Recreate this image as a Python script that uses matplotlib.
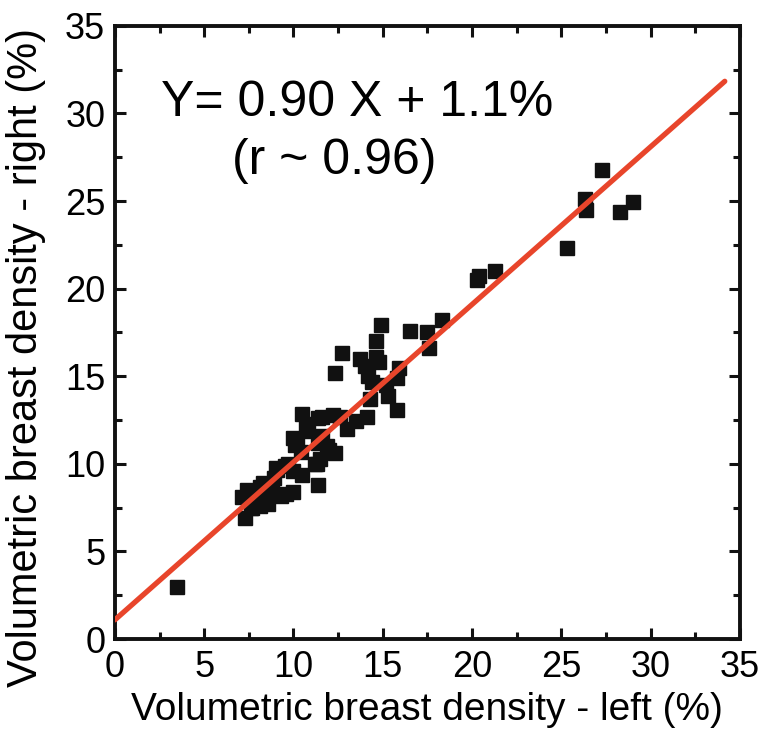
import matplotlib
matplotlib.use("Agg")
import matplotlib.pyplot as plt
import numpy as np

plt.rcParams['font.family'] = ['Liberation Sans', 'DejaVu Sans']

left_density = [3.5, 25.3, 27.3, 26.3, 26.4, 28.3, 29.0, 20.3, 20.4, 21.3,
                17.5, 17.6, 18.3, 16.5, 14.9, 14.6, 15.9, 15.8, 15.8, 15.3,
                15.2, 14.8, 14.6, 13.7, 14.0, 14.2, 14.4, 14.3, 14.1, 13.5,
                13.0, 12.7, 12.3, 12.2, 11.6, 11.4, 12.3, 11.9, 11.6, 11.4,
                11.5, 11.2, 11.4, 10.5, 10.7, 10.8, 10.0, 10.1, 10.4, 10.5,
                10.0, 9.7, 9.5, 9.0, 8.9, 10.0, 9.3, 8.8, 8.5, 8.1,
                7.8, 7.4, 7.1, 7.3, 7.7, 8.1, 8.6, 12.6, 12.0, 11.3,
                9.1, 10.2, 9.6, 8.3, 7.6]
right_density = [3.0, 22.3, 26.8, 25.1, 24.5, 24.4, 24.95, 20.5, 20.7, 21.0,
                 17.55, 16.6, 18.2, 17.6, 17.9, 17.0, 15.5, 14.9, 13.1, 13.9,
                 14.5, 15.8, 16.1, 16.0, 15.6, 15.0, 14.7, 13.7, 12.7, 12.45,
                 12.0, 16.3, 15.2, 12.8, 12.7, 12.6, 10.6, 11.0, 11.6, 11.2,
                 10.3, 10.0, 8.8, 12.85, 12.3, 11.9, 11.5, 11.1, 10.7, 9.35,
                 9.6, 10.0, 9.9, 9.75, 9.2, 8.4, 8.15, 8.4, 7.9, 8.7,
                 8.0, 8.5, 8.1, 6.9, 7.5, 7.6, 7.7, 12.7, 10.8, 10.0,
                 9.65, 11.4, 8.3, 8.9, 7.5]

slope = 0.90
intercept = 1.1
fit_x = [0.0, 34.15]

x_ticks = [0, 5, 10, 15, 20, 25, 30, 35]
y_ticks = [0, 5, 10, 15, 20, 25, 30, 35]

fig = plt.figure(figsize=(7.66, 7.38), dpi=100)
ax = fig.add_axes([0.150, 0.134, 0.816, 0.831])

ax.plot(left_density, right_density, linestyle='none', marker='s', ms=10,
        color='#111111', mec='#111111', zorder=2)
fx = np.array(fit_x)
ax.plot(fx, slope * fx + intercept, color='#E8452B', lw=3.8,
        solid_capstyle='round', zorder=3)

ax.set_xlim(0, 35)
ax.set_ylim(0, 35)
ax.set_xticks(x_ticks)
ax.set_yticks(y_ticks)
ax.set_xticks(np.arange(2.5, 35, 5), minor=True)
ax.set_yticks(np.arange(2.5, 35, 5), minor=True)
ax.tick_params(which='both', direction='in', top=True, right=True,
               width=2.2, color='#111111')
ax.tick_params(which='major', length=8, labelsize=26, pad=8)
ax.tick_params(which='minor', length=5)
ax.tick_params(axis='y', which='major', pad=7)
for s in ax.spines.values():
    s.set_linewidth(2.8)
    s.set_color('#111111')

ax.set_xlabel('Volumetric breast density - left (%)', fontsize=28, labelpad=5)
ax.set_ylabel('Volumetric breast density - right (%)', fontsize=30)
ax.yaxis.set_label_coords(-0.11, 0.46)

ax.text(13.55, 30.6, 'Y= 0.90 X + 1.1%', fontsize=36, ha='center', va='center')
ax.text(12.3, 27.3, '(r ~ 0.96)', fontsize=36, ha='center', va='center')

fig.savefig('out.png', dpi=100)
